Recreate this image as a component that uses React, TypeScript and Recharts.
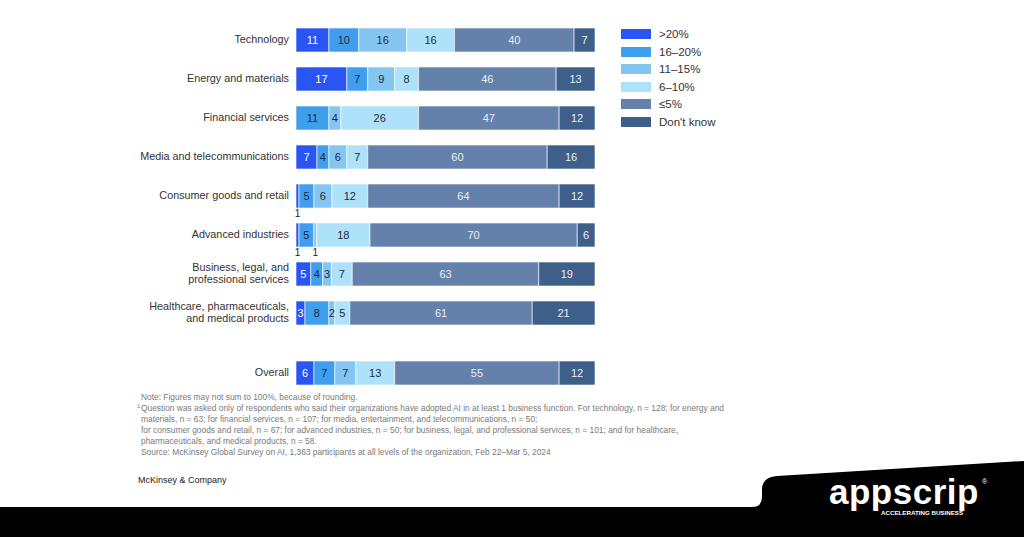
import * as React from 'react';
import { Bar, BarChart, LabelList, XAxis, YAxis } from 'recharts';

const categories = [
    'Technology',
    'Energy and materials',
    'Financial services',
    'Media and telecommunications',
    'Consumer goods and retail',
    'Advanced industries',
    'Business, legal, and\nprofessional services',
    'Healthcare, pharmaceuticals,\nand medical products',
];

const seriesNames = ['>20%', '16–20%', '11–15%', '6–10%', '≤5%', "Don't know"];
const seriesKeys = ['g20', 'g16', 'g11', 'g6', 'g5', 'dk'];
const colors = ['#2a55f4', '#3f9fee', '#84c5f1', '#ade2fa', '#6381aa', '#3f5f8b'];
const labelColors = ['#ffffff', '#1c2b40', '#1c2b40', '#1c2b40', '#e9eef6', '#e9eef6'];

const above20 = [11, 17, 0, 7, 1, 1, 5, 3];
const from16 = [10, 7, 11, 4, 5, 5, 4, 8];
const from11 = [16, 9, 4, 6, 6, 1, 3, 2];
const from6 = [16, 8, 26, 7, 12, 18, 7, 5];
const upTo5 = [40, 46, 47, 60, 64, 70, 63, 61];
const dontKnow = [7, 13, 12, 16, 12, 6, 19, 21];

const overallName = 'Overall';
const overallValues = [6, 7, 7, 13, 55, 12];

const footnotes = [
    'Note: Figures may not sum to 100%, because of rounding.',
    'Question was asked only of respondents who said their organizations have adopted AI in at least 1 business function. For technology, n = 128; for energy and',
    'materials, n = 63; for financial services, n = 107; for media, entertainment, and telecommunications, n = 50;',
    'for consumer goods and retail, n = 67; for advanced industries, n = 50; for business, legal, and professional services, n = 101; and for healthcare,',
    'pharmaceuticals, and medical products, n = 58.',
    'Source: McKinsey Global Survey on AI, 1,363 participants at all levels of the organization, Feb 22–Mar 5, 2024',
];

const series = [above20, from16, from11, from6, upTo5, dontKnow];
const rows = categories.map((name, i) => {
    const row: any = { name };
    seriesKeys.forEach((k, s) => { row[k] = series[s][i]; });
    return row;
});
const overallRow: any = { name: overallName };
seriesKeys.forEach((k, s) => { overallRow[k] = overallValues[s]; });

const FONT = '"Liberation Sans", Arial, sans-serif';

const CatTick = (props: any) => {
    const { x, y, payload } = props;
    const lines = String(payload.value).split('\n');
    const lh = 12;
    const start = y - ((lines.length - 1) * lh) / 2;
    return (
        <g>
            {lines.map((l, i) => (
                <text key={i} x={x} y={start + i * lh} dy={3.5} textAnchor="end" fontSize={10.8} fill="#333" fontFamily={FONT}>
                    {l}
                </text>
            ))}
        </g>
    );
};

const makeLabel = (idx: number) => (props: any) => {
    const { x, y, width, height, value } = props;
    if (!value) return null;
    if (value <= 1) {
        return (
            <text x={x + width / 2} y={y + height + 9} textAnchor="middle" fontSize={10} fill="#222" fontFamily={FONT}>
                {value}
            </text>
        );
    }
    return (
        <text x={x + width / 2} y={y + height / 2} dy={4} textAnchor="middle" fontSize={11} fill={labelColors[idx]} fontFamily={FONT}>
            {value}
        </text>
    );
};

const StackedRows = ({ data, height, top }: { data: any[]; height: number; top: number }) => (
    <div style={{ position: 'absolute', left: 0, top }}>
        <BarChart
            width={600}
            height={height}
            data={data}
            layout="vertical"
            stackOffset="expand"
            barSize={24}
            margin={{ top: 0, right: 5, bottom: 0, left: 0 }}
        >
            <XAxis type="number" hide domain={[0, 1]} />
            <YAxis
                type="category"
                dataKey="name"
                width={296}
                axisLine={false}
                tickLine={false}
                tickSize={0}
                tickMargin={7}
                interval={0}
                tick={<CatTick />}
            />
            {seriesKeys.map((k, i) => (
                <Bar key={k} dataKey={k} stackId="a" fill={colors[i]} stroke="#ffffff" strokeWidth={0.6} isAnimationActive={false}>
                    <LabelList dataKey={k} content={makeLabel(i)} />
                </Bar>
            ))}
        </BarChart>
    </div>
);

export default function App() {
    return (
        <div style={{ position: 'absolute', left: 0, top: 0, width: 1024, height: 537, background: '#fff', overflow: 'hidden', fontFamily: FONT }}>
            <StackedRows data={rows} height={312} top={20} />
            <StackedRows data={[overallRow]} height={39} top={352.5} />

            <div style={{ position: 'absolute', left: 621, top: 25.5 }}>
                {seriesNames.map((n, i) => (
                    <div key={n} style={{ display: 'flex', alignItems: 'center', height: 17.5 }}>
                        <div style={{ width: 30, height: 10, background: colors[i] }} />
                        <span style={{ marginLeft: 8, fontSize: 11.5, color: '#333' }}>{n}</span>
                    </div>
                ))}
            </div>

            <div style={{ position: 'absolute', left: 141, top: 391.5, fontSize: 8.4, color: '#7a7a7a', lineHeight: '11px', whiteSpace: 'nowrap' }}>
                {footnotes.map((f, i) => (
                    <div key={i} style={{ position: 'relative' }}>
                        {i === 1 && <sup style={{ position: 'absolute', left: -4, top: -2, fontSize: 6 }}>1</sup>}
                        {f}
                    </div>
                ))}
            </div>

            <div style={{ position: 'absolute', left: 138, top: 475, fontSize: 9, color: '#222' }}>McKinsey &amp; Company</div>

            <svg width={1024} height={537} style={{ position: 'absolute', left: 0, top: 0 }}>
                <path d="M0 507 L752 507 Q762 507 762 497 L762 490 Q762 477 777 476 L1024 461 L1024 537 L0 537 Z" fill="#000" />
                <text x={829} y={504} fontSize={35} fontWeight="bold" fill="#fff" fontFamily={FONT} letterSpacing={0.5}>appscrip</text>
                <text x={881} y={515} fontSize={6.2} fontWeight="bold" fill="#fff" fontFamily={FONT}>ACCELERATING BUSINESS</text>
                <text x={982} y={484} fontSize={7} fill="#fff" fontFamily={FONT}>®</text>
            </svg>
        </div>
    );
}
